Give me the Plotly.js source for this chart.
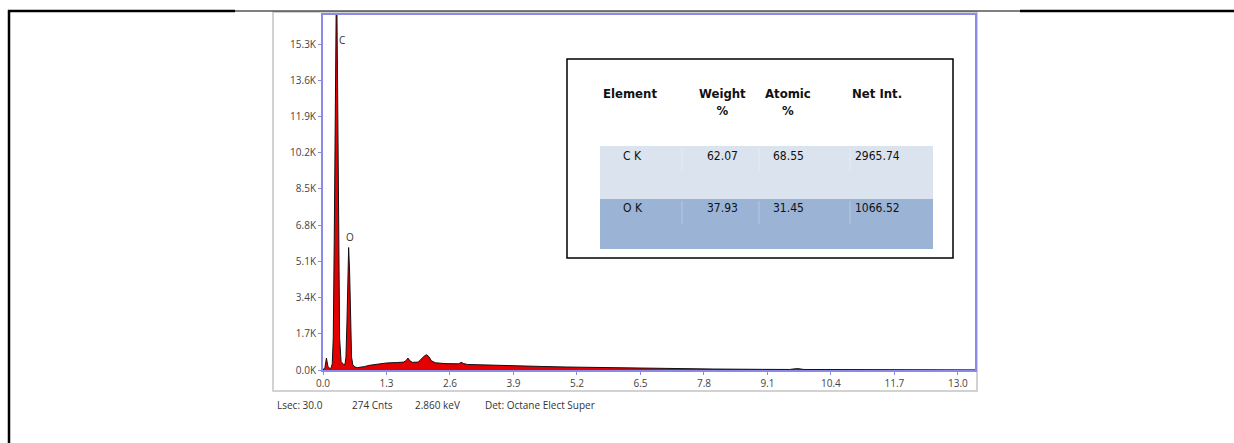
<!DOCTYPE html>
<html>
<head>
<meta charset="utf-8">
<script src="https://cdn.plot.ly/plotly-3.0.1.min.js"></script>
<style>
  html, body { margin: 0; padding: 0; background: #ffffff; }
  #chart { width: 1234px; height: 443px; }
</style>
</head>
<body>
<div id="chart"></div>
<script>
// EDS spectrum: energy (keV) and counts
const energyKeV = [0.00, 0.04, 0.07, 0.10, 0.14, 0.17, 0.19, 0.21, 0.23, 0.25, 0.277, 0.30, 0.32, 0.34, 0.37, 0.42,
  0.45, 0.47, 0.49, 0.51, 0.525, 0.545, 0.565, 0.585, 0.61, 0.65, 0.70, 0.75, 0.80, 0.85, 0.95, 1.10, 1.30,
  1.50, 1.65, 1.70, 1.74, 1.78, 1.83, 1.95, 2.02, 2.07, 2.12, 2.17, 2.22, 2.30, 2.50, 2.70, 2.78, 2.83,
  2.88, 2.96, 3.20, 3.60, 4.00, 4.50, 5.00, 6.00, 7.00, 8.00, 9.00, 9.55, 9.68, 9.72, 9.85, 10.5, 11.5,
  12.5, 13.35];
const counts = [0, 120, 560, 180, 60, 120, 300, 1500, 6000, 13000, 19000, 13000, 6000, 1500, 400, 260,
  260, 600, 2200, 4800, 5750, 4600, 2000, 600, 250, 150, 110, 120, 140, 160, 220, 280, 330,
  350, 370, 440, 560, 430, 360, 370, 560, 650, 720, 620, 430, 340, 300, 270, 290, 360,
  300, 260, 240, 215, 190, 165, 140, 100, 70, 45, 30, 25, 60, 65, 25, 18, 12,
  8, 5];

// Axis ticks
const xTickVals = [0.0, 1.3, 2.6, 3.9, 5.2, 6.5, 7.8, 9.1, 10.4, 11.7, 13.0];
const xTickText = ['0.0', '1.3', '2.6', '3.9', '5.2', '6.5', '7.8', '9.1', '10.4', '11.7', '13.0'];
const yTickVals = [0, 1700, 3400, 5100, 6800, 8500, 10200, 11900, 13600, 15300];
const yTickText = ['0.0K', '1.7K', '3.4K', '5.1K', '6.8K', '8.5K', '10.2K', '11.9K', '13.6K', '15.3K'];

// Peak labels
const peakNames = ['C', 'O'];
const peakEnergy = [0.29, 0.55];
const peakLabelCounts = [15500, 6250];

// Quantification table
const tableHeaders = ['Element', 'Weight<br>%', 'Atomic<br>%', 'Net Int.'];
const tableElements = ['C K', 'O K'];
const weightPct = ['62.07', '37.93'];
const atomicPct = ['68.55', '31.45'];
const netInt = ['2965.74', '1066.52'];

// Acquisition footer
const footerItems = ['Lsec: 30.0', '274 Cnts', '2.860 keV', 'Det: Octane Elect Super'];

// Pixel frame of the plotting area
const L = 323, R = 975, T = 15, B = 370, W = 1234, H = 443;
const px = x => (x - L) / (R - L);
const py = y => (B - y) / (B - T);

const spectrum = {
  x: energyKeV, y: counts, type: 'scatter', mode: 'lines',
  fill: 'tozeroy', fillcolor: '#e40000',
  line: { color: '#111111', width: 1 },
  hoverinfo: 'x+y', showlegend: false
};

const shapes = [];
const annotations = [];

// page border lines
shapes.push({ type: 'line', xref: 'paper', yref: 'paper', x0: px(8), x1: px(235), y0: py(11), y1: py(11), line: { color: '#000', width: 2.5 } });
shapes.push({ type: 'line', xref: 'paper', yref: 'paper', x0: px(235), x1: px(1020), y0: py(11), y1: py(11), line: { color: '#000', width: 1.2 } });
shapes.push({ type: 'line', xref: 'paper', yref: 'paper', x0: px(1020), x1: px(1234), y0: py(11), y1: py(11), line: { color: '#000', width: 2.5 } });
shapes.push({ type: 'line', xref: 'paper', yref: 'paper', x0: px(9), x1: px(9), y0: py(10), y1: py(443), line: { color: '#000', width: 2.5 } });

// grey window frame around the spectrum
shapes.push({ type: 'rect', xref: 'paper', yref: 'paper', x0: px(273), x1: px(977), y0: py(12), y1: py(391), line: { color: '#c4c4c4', width: 1.5 }, layer: 'below' });

// table box and row bands
const tL = 567, tR = 953, tT = 59, tB = 258;
const bandL = 600, bandR = 933;
const rowTop = [146, 199], rowBot = [199, 249], rowFill = ['#dbe3ef', '#9bb3d5'];
for (let i = 0; i < 2; i++) {
  shapes.push({ type: 'rect', xref: 'paper', yref: 'paper', x0: px(bandL), x1: px(bandR), y0: py(rowTop[i]), y1: py(rowBot[i]), line: { width: 0 }, fillcolor: rowFill[i] });
}
// faint cell dividers
[682, 759, 850].forEach(xv => {
  for (let i = 0; i < 2; i++) {
    shapes.push({ type: 'line', xref: 'paper', yref: 'paper', x0: px(xv), x1: px(xv), y0: py(rowTop[i] + 2), y1: py(rowTop[i] + 25), line: { color: 'rgba(255,255,255,0.3)', width: 1 } });
  }
});
shapes.push({ type: 'rect', xref: 'paper', yref: 'paper', x0: px(tL), x1: px(tR), y0: py(tT), y1: py(tB), line: { color: '#000', width: 1.5 }, fillcolor: 'rgba(255,255,255,0)' });

const tableFont = 'DejaVu Sans Condensed, Liberation Sans, Arial, sans-serif';
const colX = [630, 722, 788, 877];
tableHeaders.forEach((h, i) => {
  annotations.push({ xref: 'paper', yref: 'paper', x: px(colX[i]), y: py(i === 1 || i === 2 ? 102 : 93), text: '<b>' + h + '</b>', showarrow: false, xanchor: 'center', yanchor: 'middle', font: { family: tableFont, size: 13, color: '#111' } });
});
const rowY = [156, 208];
for (let r = 0; r < 2; r++) {
  annotations.push({ xref: 'paper', yref: 'paper', x: px(621), y: py(rowY[r]), text: tableElements[r], showarrow: false, xanchor: 'left', yanchor: 'middle', font: { family: tableFont, size: 12, color: '#111' } });
  [weightPct[r], atomicPct[r], netInt[r]].forEach((v, c) => {
    annotations.push({ xref: 'paper', yref: 'paper', x: px(colX[c + 1]), y: py(rowY[r]), text: v, showarrow: false, xanchor: 'center', yanchor: 'middle', font: { family: tableFont, size: 12, color: '#111' } });
  });
}

// peak labels
peakNames.forEach((n, i) => {
  annotations.push({ x: peakEnergy[i], y: peakLabelCounts[i], xref: 'x', yref: 'y', text: n, showarrow: false, xanchor: i === 0 ? 'left' : 'center', yanchor: 'middle', font: { family: 'Open Sans, DejaVu Sans, sans-serif', size: 10, color: '#333' } });
});

// footer
const footerX = [275, 350, 413, 483];
footerItems.forEach((t, i) => {
  annotations.push({ xref: 'paper', yref: 'paper', x: px(footerX[i]), y: py(405), text: t, showarrow: false, xanchor: 'left', yanchor: 'middle', font: { family: 'Open Sans, DejaVu Sans, sans-serif', size: 10, color: '#333' } });
});

const axisColor = '#8a8ae8';
const layout = {
  width: W, height: H,
  margin: { l: L, r: W - R, t: T, b: H - B, pad: 0 },
  paper_bgcolor: '#ffffff', plot_bgcolor: '#ffffff',
  showlegend: false,
  xaxis: {
    range: [0, 13.35], tickmode: 'array', tickvals: xTickVals, ticktext: xTickText,
    showgrid: false, zeroline: false, showline: true, mirror: true,
    linecolor: axisColor, linewidth: 2, ticks: 'outside', ticklen: 3, tickcolor: axisColor,
    tickfont: { family: 'Open Sans, DejaVu Sans, sans-serif', size: 10, color: '#444' }
  },
  yaxis: {
    range: [0, 16670], tickmode: 'array', tickvals: yTickVals, ticktext: yTickText,
    showgrid: false, zeroline: false, showline: true, mirror: true,
    linecolor: axisColor, linewidth: 2, ticks: 'outside', ticklen: 3, tickcolor: axisColor,
    tickfont: { family: 'Open Sans, DejaVu Sans, sans-serif', size: 10, color: '#444' }
  },
  shapes: shapes,
  annotations: annotations
};

Plotly.newPlot('chart', [spectrum], layout, { displayModeBar: false, staticPlot: true });
</script>
</body>
</html>
